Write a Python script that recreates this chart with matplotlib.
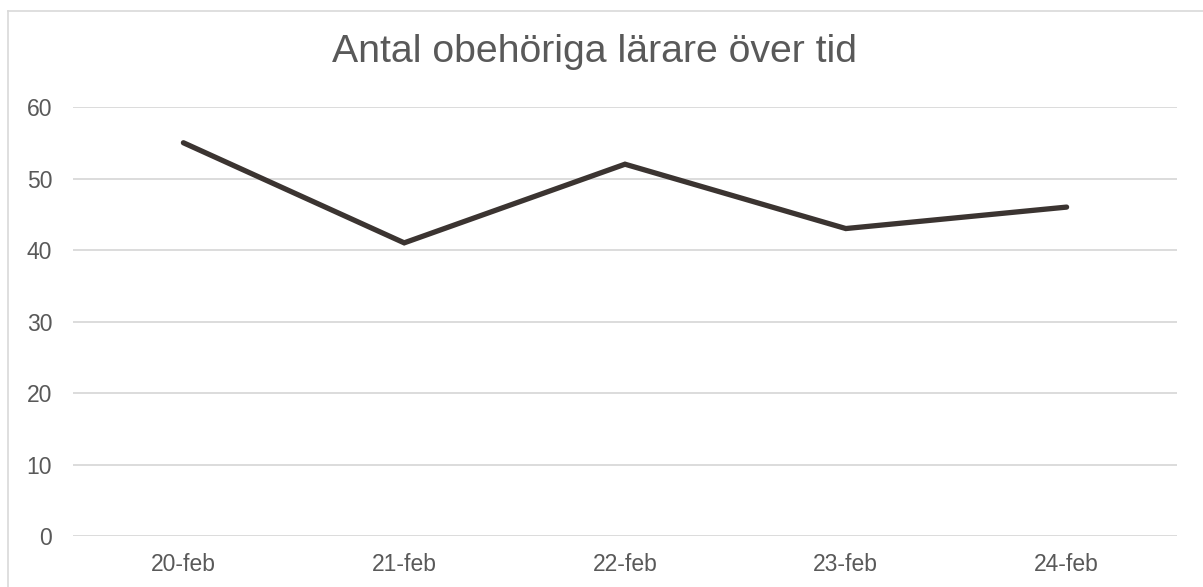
import matplotlib
matplotlib.use("Agg")
import matplotlib.pyplot as plt
from matplotlib.lines import Line2D

plt.rcParams["font.family"] = ["Liberation Sans", "DejaVu Sans"]

# data
dates = ["20-feb", "21-feb", "22-feb", "23-feb", "24-feb"]
counts = [55, 41, 52, 43, 46]
yticks = [0, 10, 20, 30, 40, 50, 60]
title = "Antal obehöriga lärare över tid"

W, H = 1203, 587
fig = plt.figure(figsize=(W / 100, H / 100), dpi=100)

# plot area in pixels: x 73..1177, y 107..536 (top-down)
ax = fig.add_axes([73 / W, 1 - 536 / H, (1177 - 73) / W, (536 - 107) / H])

x = range(len(dates))
ax.plot(x, counts, color="#3b3431", lw=3.8, solid_capstyle="round",
        solid_joinstyle="miter", zorder=3)

ax.set_xlim(-0.5, len(dates) - 0.5)
ax.set_ylim(0, 60)
ax.set_yticks(yticks)
ax.set_xticks(list(x))
ax.set_xticklabels(dates)
ax.grid(axis="y", color="#d9d9d9", lw=1.3)
ax.set_axisbelow(True)
for s in ax.spines.values():
    s.set_visible(False)
ax.tick_params(length=0, labelsize=16.5, labelcolor="#595959")
ax.tick_params(axis="y", pad=15)
ax.tick_params(axis="x", pad=12)

fig.text(594 / W, 1 - 52 / H, title, ha="center", va="center",
         fontsize=28.3, color="#595959")

# chart frame (cropped on the right and bottom)
fig.add_artist(Line2D([8 / W, 1], [1 - 10.5 / H, 1 - 10.5 / H],
                      transform=fig.transFigure, color="#d9d9d9", lw=1.2))
fig.add_artist(Line2D([8 / W, 8 / W], [0, 1 - 10.5 / H],
                      transform=fig.transFigure, color="#d9d9d9", lw=1.2))

fig.savefig("out.png", dpi=100)
